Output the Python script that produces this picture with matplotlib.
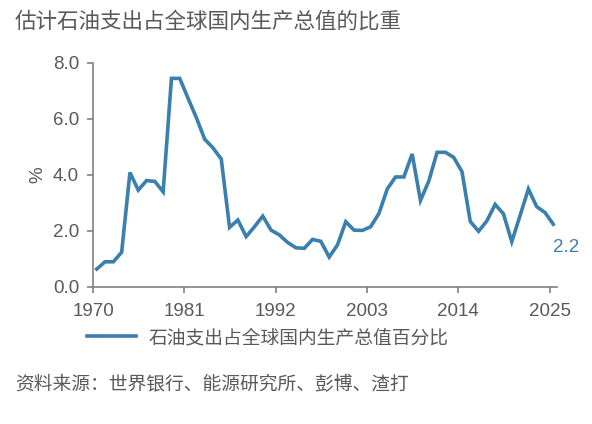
import matplotlib
matplotlib.use("Agg")
import matplotlib.pyplot as plt
import numpy as np

plt.rcParams['font.family'] = ['Liberation Sans', 'Noto Sans CJK SC', 'DejaVu Sans']

years = list(range(1970, 2026))
values = [0.63, 0.89, 0.89, 1.23, 4.08, 3.45, 3.79, 3.76, 3.39, 7.44,
          7.44, 6.73, 6.04, 5.27, 4.96, 4.56, 2.12, 2.38, 1.79, 2.14,
          2.52, 2.02, 1.85, 1.58, 1.39, 1.37, 1.69, 1.62, 1.06, 1.49,
          2.32, 2.02, 2.01, 2.14, 2.62, 3.49, 3.92, 3.92, 4.74, 3.08,
          3.77, 4.80, 4.80, 4.62, 4.11, 2.33, 1.98, 2.35, 2.94, 2.60,
          1.61, 2.54, 3.49, 2.86, 2.65, 2.23]
tick_labels = ['1970', '1981', '1992', '2003', '2014', '2025']
y_ticks = [0, 2, 4, 6, 8]

title = '估计石油支出占全球国内生产总值的比重'
legend_label = '石油支出占全球国内生产总值百分比'
source = '资料来源：世界银行、能源研究所、彭博、渣打'
end_label = '2.2'

line_color = '#3A7FAD'
text_color = '#595959'
axis_color = '#808080'

fig = plt.figure(figsize=(5.92, 4.24), dpi=100)
ax = fig.add_axes([0.1571, 0.3238, 0.7838, 0.5283])

line, = ax.plot(years, values, color=line_color, lw=2.6, solid_joinstyle='miter',
                label=legend_label)

offset = 0.45
ax.set_xlim(1970 - offset, 1970 - offset + 55.9)
ax.set_ylim(0, 8)
ax.set_xticks([int(t) - offset for t in tick_labels])
ax.set_xticklabels(tick_labels)
ax.set_yticks(y_ticks)
ax.set_yticklabels([f'{v:.1f}' for v in y_ticks])

for s in ['top', 'right']:
    ax.spines[s].set_visible(False)
for s in ['left', 'bottom']:
    ax.spines[s].set_color(axis_color)
    ax.spines[s].set_linewidth(1.2)
ax.tick_params(axis='both', direction='out', length=4, width=1.2, color=axis_color,
               labelsize=13.5, labelcolor=text_color)
ax.tick_params(axis='x', pad=8)
ax.tick_params(axis='y', pad=6)

ax.set_ylabel('%', fontsize=13.5, color=text_color, labelpad=5)

ax.annotate(end_label, xy=(years[-1], values[-1]), xytext=(0, -17),
            textcoords='offset points', fontsize=13.5, color=line_color,
            ha='left', va='center')

fig.text(15 / 592, 1 - 22 / 424, title, fontsize=15.5, color=text_color,
         ha='left', va='center')

fig.legend(handles=[line], labels=[legend_label], loc='center left',
           bbox_to_anchor=(70 / 592, 1 - 338 / 424), frameon=False,
           fontsize=13.5, labelcolor=text_color, handlelength=2.6,
           handletextpad=0.7)

fig.text(15 / 592, 1 - 385 / 424, source, fontsize=13.5, color=text_color,
         ha='left', va='center')

fig.savefig('out.png', dpi=100, facecolor='white')
